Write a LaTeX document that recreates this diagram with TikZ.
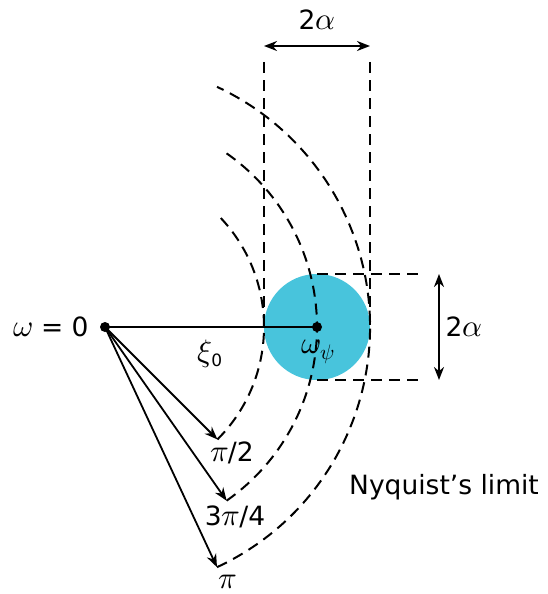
\documentclass[tikz,border=0pt]{standalone}
\usepackage{fontspec}
\setmainfont{DejaVu Sans}
\newfontfamily\mfont{Latin Modern Math}
\usetikzlibrary{arrows.meta,calc}
\definecolor{disc}{HTML}{48C4DC}
\newcommand{\gk}[2][31]{{\fontsize{#1}{#1}\selectfont\mfont #2}}
\begin{document}
\begin{tikzpicture}[x=1pt,y=-1pt,
  lbl/.style={font=\fontsize{26.5}{32}\selectfont, inner sep=0pt},
  dsh/.style={line width=2pt, dash pattern=on 11pt off 7pt},
  arr/.style={line width=1.8pt, -{Stealth[length=13pt,width=10pt]}},
  dbl/.style={line width=2.2pt, {Stealth[length=13pt,width=10pt]}-{Stealth[length=13pt,width=10pt]}}]
\useasboundingbox (0,0) rectangle (547,594);
\coordinate (O) at (105,327);
\coordinate (C) at (317,327);
\fill[disc] (C) circle[radius=53];
% arrow end points
\coordinate (a1) at ($(O)+(45:159)$);
\coordinate (a2) at ($(O)+(55:212)$);
\coordinate (a3) at ($(O)+(65:265)$);
% arcs
\draw[dsh] (a1) arc[start angle=45, end angle=-45, radius=159];
\draw[dsh] (a2) arc[start angle=55, end angle=-55, radius=212];
\draw[dsh] (a3) arc[start angle=65, end angle=-65, radius=265];
% vertical dashed lines
\coordinate (vl1) at (264,62); \coordinate (vl2) at (264,327);
\coordinate (vr1) at (370,62); \coordinate (vr2) at (370,327);
\draw[dsh] (vl1) -- (vl2);
\draw[dsh] (vr1) -- (vr2);
% horizontal dashed lines
\coordinate (ht1) at (317,274); \coordinate (ht2) at (425,274);
\coordinate (hb1) at (317,380); \coordinate (hb2) at (425,380);
\draw[dsh] (ht1) -- (ht2);
\draw[dsh] (hb1) -- (hb2);
% dimension arrows
\coordinate (tl) at (264,46); \coordinate (tr) at (370,46);
\draw[dbl] (tl) -- (tr);
\coordinate (rt) at (439,274); \coordinate (rb) at (439,380);
\draw[dbl] (rt) -- (rb);
% radial arrows
\draw[arr] (O) -- (a1);
\draw[arr] (O) -- (a2);
\draw[arr] (O) -- (a3);
\draw[line width=2pt] (O) -- (C);
\fill (O) circle[radius=5];
\fill (C) circle[radius=5];
% labels
\node[lbl] (l0) at (51,327) {\gk{𝜔} = 0};
\node[lbl] (lx) at (210,354) {\gk{𝜉}\raisebox{-5pt}{\fontsize{17}{20}\selectfont 0}};
\node[lbl] (lw) at (318,352) {\gk{𝜔}\raisebox{-6pt}{\gk[21]{𝜓}}};
\node[lbl] (lta) at (317,20) {2\gk{𝛼}};
\node[lbl] (lra) at (464,327) {2\gk{𝛼}};
\node[lbl] (lp2) at (232,453) {\gk{𝜋}/2};
\node[lbl] (lp34) at (235,517) {3\gk{𝜋}/4};
\node[lbl] (lp) at (227,582) {\gk{𝜋}};
\node[lbl] (ln) at (444,487) {Nyquist’s limit};
\end{tikzpicture}
\end{document}
